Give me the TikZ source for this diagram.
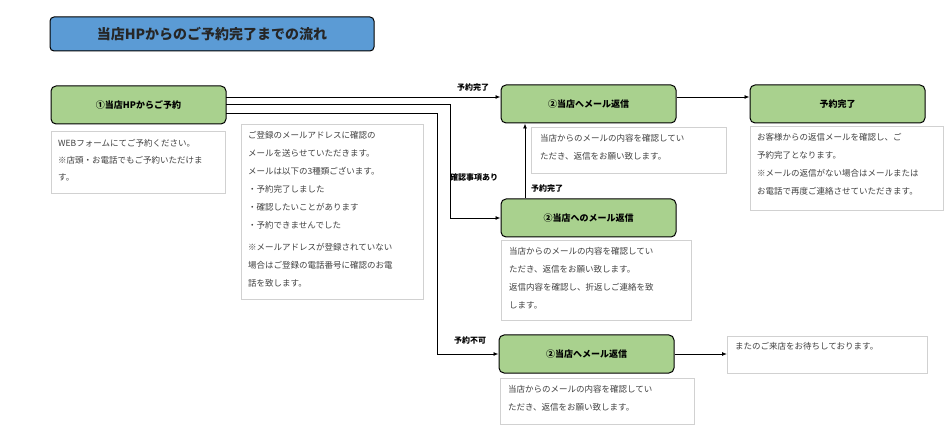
\documentclass[tikz,border=0pt]{standalone}
\usepackage{fontspec}
\setmainfont{Noto Sans CJK JP}
\usetikzlibrary{arrows.meta}
\definecolor{gfill}{HTML}{A9D18E}
\definecolor{bfill}{HTML}{5B9BD5}
\definecolor{txtg}{HTML}{404040}
\tikzset{
  x=1pt,y=-1pt,
  stepbox/.style={draw=black,line width=1pt,rounded corners=5pt,fill=gfill,font=\fontsize{9}{11}\selectfont\bfseries},
  descbox/.style={draw=black!18,line width=0.8pt,fill=white},
  desctext/.style={anchor=north west,align=left,text=txtg,font=\fontsize{8.5}{18}\selectfont,inner sep=0pt},
  conn/.style={line width=0.9pt,-{Latex[length=5pt,width=4pt]}},
  lbl/.style={font=\fontsize{8}{10}\selectfont\bfseries,inner sep=1pt}
}
\begin{document}
\begin{tikzpicture}
\useasboundingbox[fill=white] (0,0) rectangle (950,443);
\node[draw=black,line width=1pt,rounded corners=4pt,fill=bfill,minimum width=324pt,minimum height=34pt,font=\fontsize{14}{16}\selectfont\bfseries,text=black!85] (title) at (212,34) {当店HPからのご予約完了までの流れ};
% green nodes
\node[stepbox,minimum width=175pt,minimum height=38pt] (n1) at (138.5,105) {①当店HPからご予約};
\node[stepbox,minimum width=175pt,minimum height=38pt] (n2a) at (588.5,104) {②当店へメール返信};
\node[stepbox,minimum width=175pt,minimum height=38pt] (n2b) at (588.5,218) {②当店へのメール返信};
\node[stepbox,minimum width=175pt,minimum height=38pt] (n2c) at (586.5,354) {②当店へメール返信};
\node[stepbox,minimum width=175pt,minimum height=38pt] (n3) at (837.5,104) {予約完了};
% desc boxes
\draw[descbox] (51,131) rectangle (225,193);
\node[desctext,font=\fontsize{8.5}{17}\selectfont] (d1) at (58,139) {WEBフォームにてご予約ください。\\※店頭・お電話でもご予約いただけま\\す。};
\draw[descbox] (241,124) rectangle (423,299);
\node[desctext] (d2) at (248,131) {ご登録のメールアドレスに確認の\\メールを送らせていただきます。\\メールは以下の3種類ございます。\\・予約完了しました\\・確認したいことがあります\\・予約できませんでした\\[4pt]※メールアドレスが登録されていない\\場合はご登録の電話番号に確認のお電\\話を致します。};
\draw[descbox] (531,127) rectangle (726,173);
\node[desctext] (d2a) at (540,134) {当店からのメールの内容を確認してい\\ただき、返信をお願い致します。};
\draw[descbox] (501,240) rectangle (691,320);
\node[desctext] (d2b) at (509,247) {当店からのメールの内容を確認してい\\ただき、返信をお願い致します。\\返信内容を確認し、折返しご連絡を致\\します。};
\draw[descbox] (500,378) rectangle (694,424);
\node[desctext] (d2c) at (508,385) {当店からのメールの内容を確認してい\\ただき、返信をお願い致します。};
\draw[descbox] (750,126) rectangle (943,210);
\node[desctext] (d3) at (757,133) {お客様からの返信メールを確認し、ご\\予約完了となります。\\※メールの返信がない場合はメールまたは\\お電話で再度ご連絡させていただきます。};
\draw[descbox] (727,336) rectangle (927,373);
\node[desctext] (d4) at (735,342) {またのご来店をお待ちしております。};
\coordinate (d4w) at (727,354);
% connectors
\draw[conn] (226,97) -- (n2a.west |- 0,97);
\draw[conn] (226,104) -- (450,104) |- (n2b.west);
\draw[conn] (226,113) -- (437,113) |- (n2c.west);
\draw[conn] (n2a.east |- 0,97) -- (n3.west |- 0,97);
\draw[conn] (n2b.north -| 525,0) -- (n2a.south -| 525,0);
\draw[conn] (n2c.east) -- (d4w);
% labels
\node[lbl] at (473,87) {予約完了};
\node[lbl] at (474,177) {確認事項あり};
\node[lbl] at (547,188) {予約完了};
\node[lbl] at (470,340) {予約不可};
\end{tikzpicture}
\end{document}
